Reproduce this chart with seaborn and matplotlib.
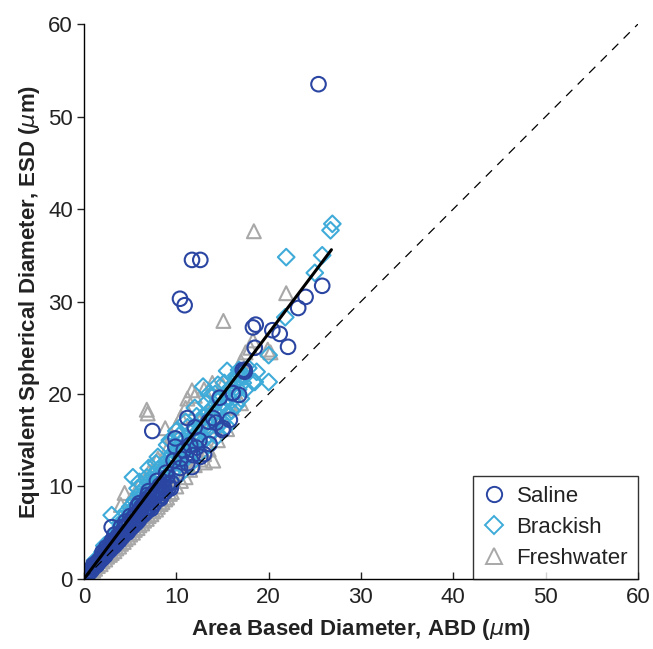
import numpy as np
import pandas as pd
import matplotlib
matplotlib.use("Agg")
import matplotlib.pyplot as plt
from matplotlib.lines import Line2D
import seaborn as sns

# ---- data (ABD, ESD in um) ----
saline_x = [0.3, 0.5, 0.7, 0.9, 1.0, 1.2, 1.3, 1.5, 1.6, 1.8, 1.9, 2.1, 2.2, 2.4, 2.5, 2.7,
            2.8, 3.0, 3.1, 3.3, 3.4, 3.6, 3.7, 3.9, 4.0, 4.2, 4.3, 4.5, 4.6, 4.8, 4.9, 5.1,
            5.2, 5.4, 5.5, 5.7, 5.8, 6.0, 6.1, 6.3, 6.4, 6.6, 6.7, 6.9, 7.0, 7.2, 7.4, 7.6,
            7.8, 8.0, 8.2, 8.4, 8.6, 8.8, 9.0, 9.2, 1.0, 2.0, 3.0, 4.0, 5.0, 6.0, 7.0, 2.3,
            3.5, 5.3, 3.0, 9.5, 8.6, 6.8, 7.9, 11.2, 11.8, 9.9, 11.5, 11.2, 12.0, 14.0, 15.1,
            14.7, 16.1, 17.2, 9.9, 11.7, 15.0, 16.1, 17.4, 12.5, 13.0, 13.5, 10.5, 12.2, 7.4,
            17.4, 18.3, 18.6, 18.5, 20.4, 21.2, 22.1, 23.2, 24.0, 25.8, 10.4, 10.9, 11.7, 12.6,
            25.4,
            0.4, 0.8, 1.1, 1.4, 1.7, 2.0, 2.3, 2.6, 2.9, 3.2, 3.5, 3.8, 4.1, 4.4, 4.7, 5.0,
            5.3, 5.6, 5.9, 6.2, 6.5, 6.8, 7.1, 7.3, 7.7, 8.1, 8.3, 8.7, 9.1, 9.4, 4.5, 3.3,
            2.4, 5.8, 6.9, 7.9, 8.9, 10.0, 10.4, 9.7, 10.8, 12.6, 13.6, 14.3, 15.8, 16.8]
saline_y = [0.4, 0.6, 0.8, 1.1, 1.2, 1.4, 1.7, 1.7, 2.0, 2.1, 2.4, 2.4, 2.8, 2.7, 3.1, 3.0,
            3.5, 3.4, 3.9, 3.6, 4.2, 4.0, 4.7, 4.3, 5.0, 4.6, 5.4, 5.0, 5.8, 5.2, 6.1, 5.6,
            6.5, 5.9, 6.9, 6.1, 7.2, 6.5, 7.5, 6.8, 8.0, 7.1, 8.3, 7.4, 8.8, 7.8, 9.2, 8.1,
            9.6, 8.6, 10.1, 9.0, 10.5, 9.4, 11.0, 9.9, 1.5, 2.9, 4.1, 5.6, 6.8, 8.2, 9.5, 2.5,
            3.8, 5.7, 5.6, 10.4, 9.3, 8.5, 9.3, 12.5, 13.4, 15.2, 14.5, 17.4, 16.4, 17.4, 16.3,
            19.6, 20.1, 22.6, 14.3, 12.1, 16.1, 20.1, 22.4, 15.0, 13.5, 17.0, 13.0, 14.2, 16.0,
            22.6, 27.2, 27.5, 25.0, 26.9, 26.5, 25.1, 29.3, 30.5, 31.7, 30.3, 29.6, 34.5, 34.5,
            53.5,
            0.5, 0.9, 1.3, 1.5, 1.9, 2.2, 2.6, 3.3, 3.2, 3.5, 4.4, 4.1, 4.5, 5.6, 5.0, 5.4,
            6.6, 6.0, 6.3, 7.8, 7.0, 7.3, 8.2, 7.6, 8.9, 9.4, 8.7, 9.8, 10.3, 9.8, 6.2, 4.8,
            3.4, 7.9, 9.1, 10.6, 11.5, 11.2, 12.0, 12.8, 13.9, 13.2, 14.6, 16.9, 17.2, 19.9]

brackish_x = [0.5, 1.0, 1.5, 2.0, 2.5, 3.0, 3.0, 3.5, 4.0, 4.0, 4.5, 4.5, 5.0, 5.0, 5.3, 5.5,
              5.5, 6.0, 6.0, 6.5, 6.5, 7.0, 7.0, 7.5, 7.5, 8.0, 8.0, 8.5, 8.5, 9.0, 9.0, 9.5,
              9.5, 10.0, 10.0, 10.5, 10.5, 11.0, 11.0, 11.5, 11.5, 12.0, 12.0, 12.5, 12.5, 13.0,
              13.0, 13.5, 13.5, 14.0, 14.0, 14.5, 14.5, 15.0, 15.0, 15.5, 15.5, 16.0, 16.0, 16.5,
              16.5, 17.0, 17.0, 12.9, 18.5, 18.7, 20.0, 20.0, 18.3, 21.8, 21.9, 25.0, 25.8, 26.7,
              26.9, 9.0, 8.0, 7.0, 6.0, 10.0, 11.0, 12.0, 13.5, 14.5, 15.5, 16.5, 11.5, 12.5,
              13.5, 14.5, 15.5, 8.5, 9.5, 10.5, 7.5, 6.5, 17.5, 17.8, 4.0, 3.2, 2.2, 1.2, 5.8,
              6.8, 7.8, 9.3, 10.3,
              4.8, 5.2, 5.7, 6.2, 6.7, 7.2, 7.7, 8.2, 8.7, 9.2, 9.7, 10.2, 10.7, 11.2, 11.7, 12.2,
              12.7, 13.2, 13.7, 14.2, 14.7, 15.2, 15.7, 16.2, 16.7, 17.2, 12.0, 13.0, 14.0, 15.0,
              16.0, 11.0, 10.0, 9.0, 8.0, 7.0, 6.0, 5.0, 4.2, 3.7, 17.4, 16.8, 15.2, 14.2, 13.2,
              12.2, 11.2, 10.2]
brackish_y = [0.7, 1.5, 2.2, 2.9, 3.6, 4.3, 6.9, 5.0, 5.8, 6.5, 6.3, 7.2, 7.0, 7.8, 11.0, 7.5,
              8.5, 8.0, 9.2, 8.6, 9.8, 9.0, 10.5, 9.5, 11.2, 10.0, 11.8, 10.5, 12.3, 11.0, 12.8,
              11.5, 13.5, 12.0, 14.0, 12.5, 14.6, 13.0, 15.2, 13.5, 15.8, 14.0, 16.3, 14.5, 17.0,
              15.0, 17.5, 15.6, 18.0, 16.0, 18.6, 16.6, 19.2, 17.0, 19.8, 17.8, 20.3, 18.2, 20.8,
              18.8, 21.5, 19.5, 22.0, 20.8, 21.3, 22.4, 21.3, 24.2, 21.3, 28.3, 34.8, 33.1, 35.0,
              37.7, 38.4, 14.5, 13.2, 12.0, 10.5, 16.0, 17.0, 18.5, 20.0, 21.0, 22.5, 22.0, 12.4,
              13.5, 14.5, 15.5, 16.5, 9.6, 10.5, 11.4, 8.6, 7.6, 20.5, 22.8, 5.0, 4.5, 3.6, 2.0,
              9.8, 11.0, 12.5, 15.0, 15.5,
              6.8, 7.4, 8.0, 9.0, 9.5, 10.0, 10.8, 11.4, 11.8, 12.5, 13.1, 13.3, 14.3, 14.6, 15.3,
              15.7, 16.4, 16.8, 17.6, 17.9, 18.5, 18.9, 19.6, 20.0, 20.5, 21.2, 15.0, 16.2, 17.2,
              18.2, 19.3, 14.0, 13.0, 12.0, 10.8, 9.8, 8.6, 7.3, 6.0, 5.3, 21.9, 22.6, 21.2, 20.0,
              19.0, 17.6, 16.4, 15.0]

fresh_x = [0.5, 1.0, 1.5, 2.0, 2.5, 3.0, 3.5, 4.0, 4.5, 5.0, 5.5, 6.0, 6.5, 7.0, 7.5, 8.0,
           8.5, 9.0, 9.5, 10.0, 11.0, 12.0, 13.0, 4.4, 6.8, 6.9, 4.0, 5.0, 6.0, 7.0, 8.0, 9.0,
           9.5, 10.0, 10.5, 11.0, 11.2, 11.7, 12.0, 13.0, 13.9, 14.5, 15.0, 15.1, 16.0, 17.0,
           17.5, 18.3, 18.4, 19.9, 20.2, 21.9, 18.0, 12.0, 14.0, 15.0, 16.0, 17.0, 11.0, 10.0,
           9.0, 8.0, 7.0, 6.0, 5.0, 3.0, 2.0, 1.0, 2.5, 3.5, 13.5, 12.5, 14.0, 13.1, 8.8,
           1.2, 1.8, 2.3, 2.8, 3.3, 3.8, 4.3, 4.8, 5.3, 5.8, 6.3, 6.8, 7.3, 7.8, 8.3, 8.8,
           9.3, 10.5, 11.5, 12.5, 13.5, 14.5, 15.5]
fresh_y = [0.5, 0.9, 1.4, 1.9, 2.4, 2.8, 3.3, 3.8, 4.3, 4.8, 5.3, 5.8, 6.3, 6.8, 7.3, 7.8,
           8.3, 8.8, 9.4, 10.0, 11.0, 12.3, 13.5, 9.3, 18.3, 17.9, 8.0, 8.5, 10.2, 11.5, 13.0, 14.0,
           15.5, 16.5, 17.5, 18.5, 19.5, 20.4, 19.8, 20.5, 21.2, 20.0, 21.0, 27.9, 21.5, 23.5,
           24.5, 25.8, 37.6, 24.8, 24.5, 30.9, 25.0, 14.5, 16.5, 17.5, 18.5, 19.0, 14.0, 12.5,
           11.0, 9.5, 8.5, 7.0, 6.0, 3.8, 2.6, 1.3, 3.5, 5.0, 18.0, 17.0, 12.8, 12.6, 16.3,
           1.1, 1.6, 2.1, 2.6, 3.0, 3.5, 4.0, 4.5, 5.0, 5.5, 6.0, 6.5, 7.0, 7.5, 8.1, 8.6,
           9.2, 10.6, 11.8, 12.9, 14.0, 15.0, 16.2]

fit_x = [0, 26.8]
fit_y = [0, 35.6]
one_to_one = [0, 60]

groups = ["Saline", "Brackish", "Freshwater"]
colors = {"Saline": "#2a45a2", "Brackish": "#3fabd9", "Freshwater": "#a8a8a8"}
markers = {"Saline": "o", "Brackish": "D", "Freshwater": "^"}
sizes = {"Saline": 110, "Brackish": 72, "Freshwater": 100}

df = pd.concat([
    pd.DataFrame({"ABD": saline_x, "ESD": saline_y, "type": "Saline"}),
    pd.DataFrame({"ABD": brackish_x, "ESD": brackish_y, "type": "Brackish"}),
    pd.DataFrame({"ABD": fresh_x, "ESD": fresh_y, "type": "Freshwater"}),
], ignore_index=True)

sns.set_style("ticks")
plt.rcParams["font.family"] = ["Liberation Sans", "DejaVu Sans"]

fig = plt.figure(figsize=(6.53, 6.49), dpi=100)
ax = fig.add_axes([0.1286, 0.1079, 0.8484, 0.855])

# freshwater at the back, saline on top
for g in ["Freshwater", "Brackish", "Saline"]:
    sub = df[df["type"] == g]
    sns.scatterplot(data=sub, x="ABD", y="ESD", ax=ax, marker=markers[g], s=sizes[g],
                    facecolor="none", edgecolor=colors[g], linewidth=1.5, legend=False)

ax.plot(one_to_one, one_to_one, color="black", lw=0.9, ls=(0, (7, 6)))
ax.plot(fit_x, fit_y, color="black", lw=2.2)

ax.set_xlim(0, 60)
ax.set_ylim(0, 60)
ax.set_xticks(range(0, 61, 10))
ax.set_yticks(range(0, 61, 10))
ax.tick_params(axis="both", labelsize=16, colors="#222222", length=5, width=1)
ax.tick_params(axis="x", direction="in", pad=6)
ax.tick_params(axis="y", direction="out", pad=3)
for side in ["top", "right"]:
    ax.spines[side].set_visible(False)
for side in ["left", "bottom"]:
    ax.spines[side].set_color("black")
    ax.spines[side].set_linewidth(1.0)

ax.set_xlabel("Area Based Diameter, ABD ($\\mu$m)", fontsize=16, fontweight="bold",
              color="#222222", labelpad=6)
ax.set_ylabel("Equivalent Spherical Diameter, ESD ($\\mu$m)", fontsize=16, fontweight="bold",
              color="#222222", labelpad=4)

handles = [Line2D([], [], ls="none", marker=markers[g], markersize=11 if g != "Brackish" else 9,
                  markerfacecolor="none", markeredgecolor=colors[g], markeredgewidth=1.4)
           for g in groups]
leg = ax.legend(handles, groups, loc="lower right", fontsize=16, frameon=True, fancybox=False,
                borderaxespad=0, handletextpad=0.5, borderpad=0.45, labelspacing=0.45,
                handlelength=1.0)
leg.get_frame().set_edgecolor("black")
leg.get_frame().set_linewidth(1.0)
for t in leg.get_texts():
    t.set_color("#222222")

plt.savefig("out.png", dpi=100)
